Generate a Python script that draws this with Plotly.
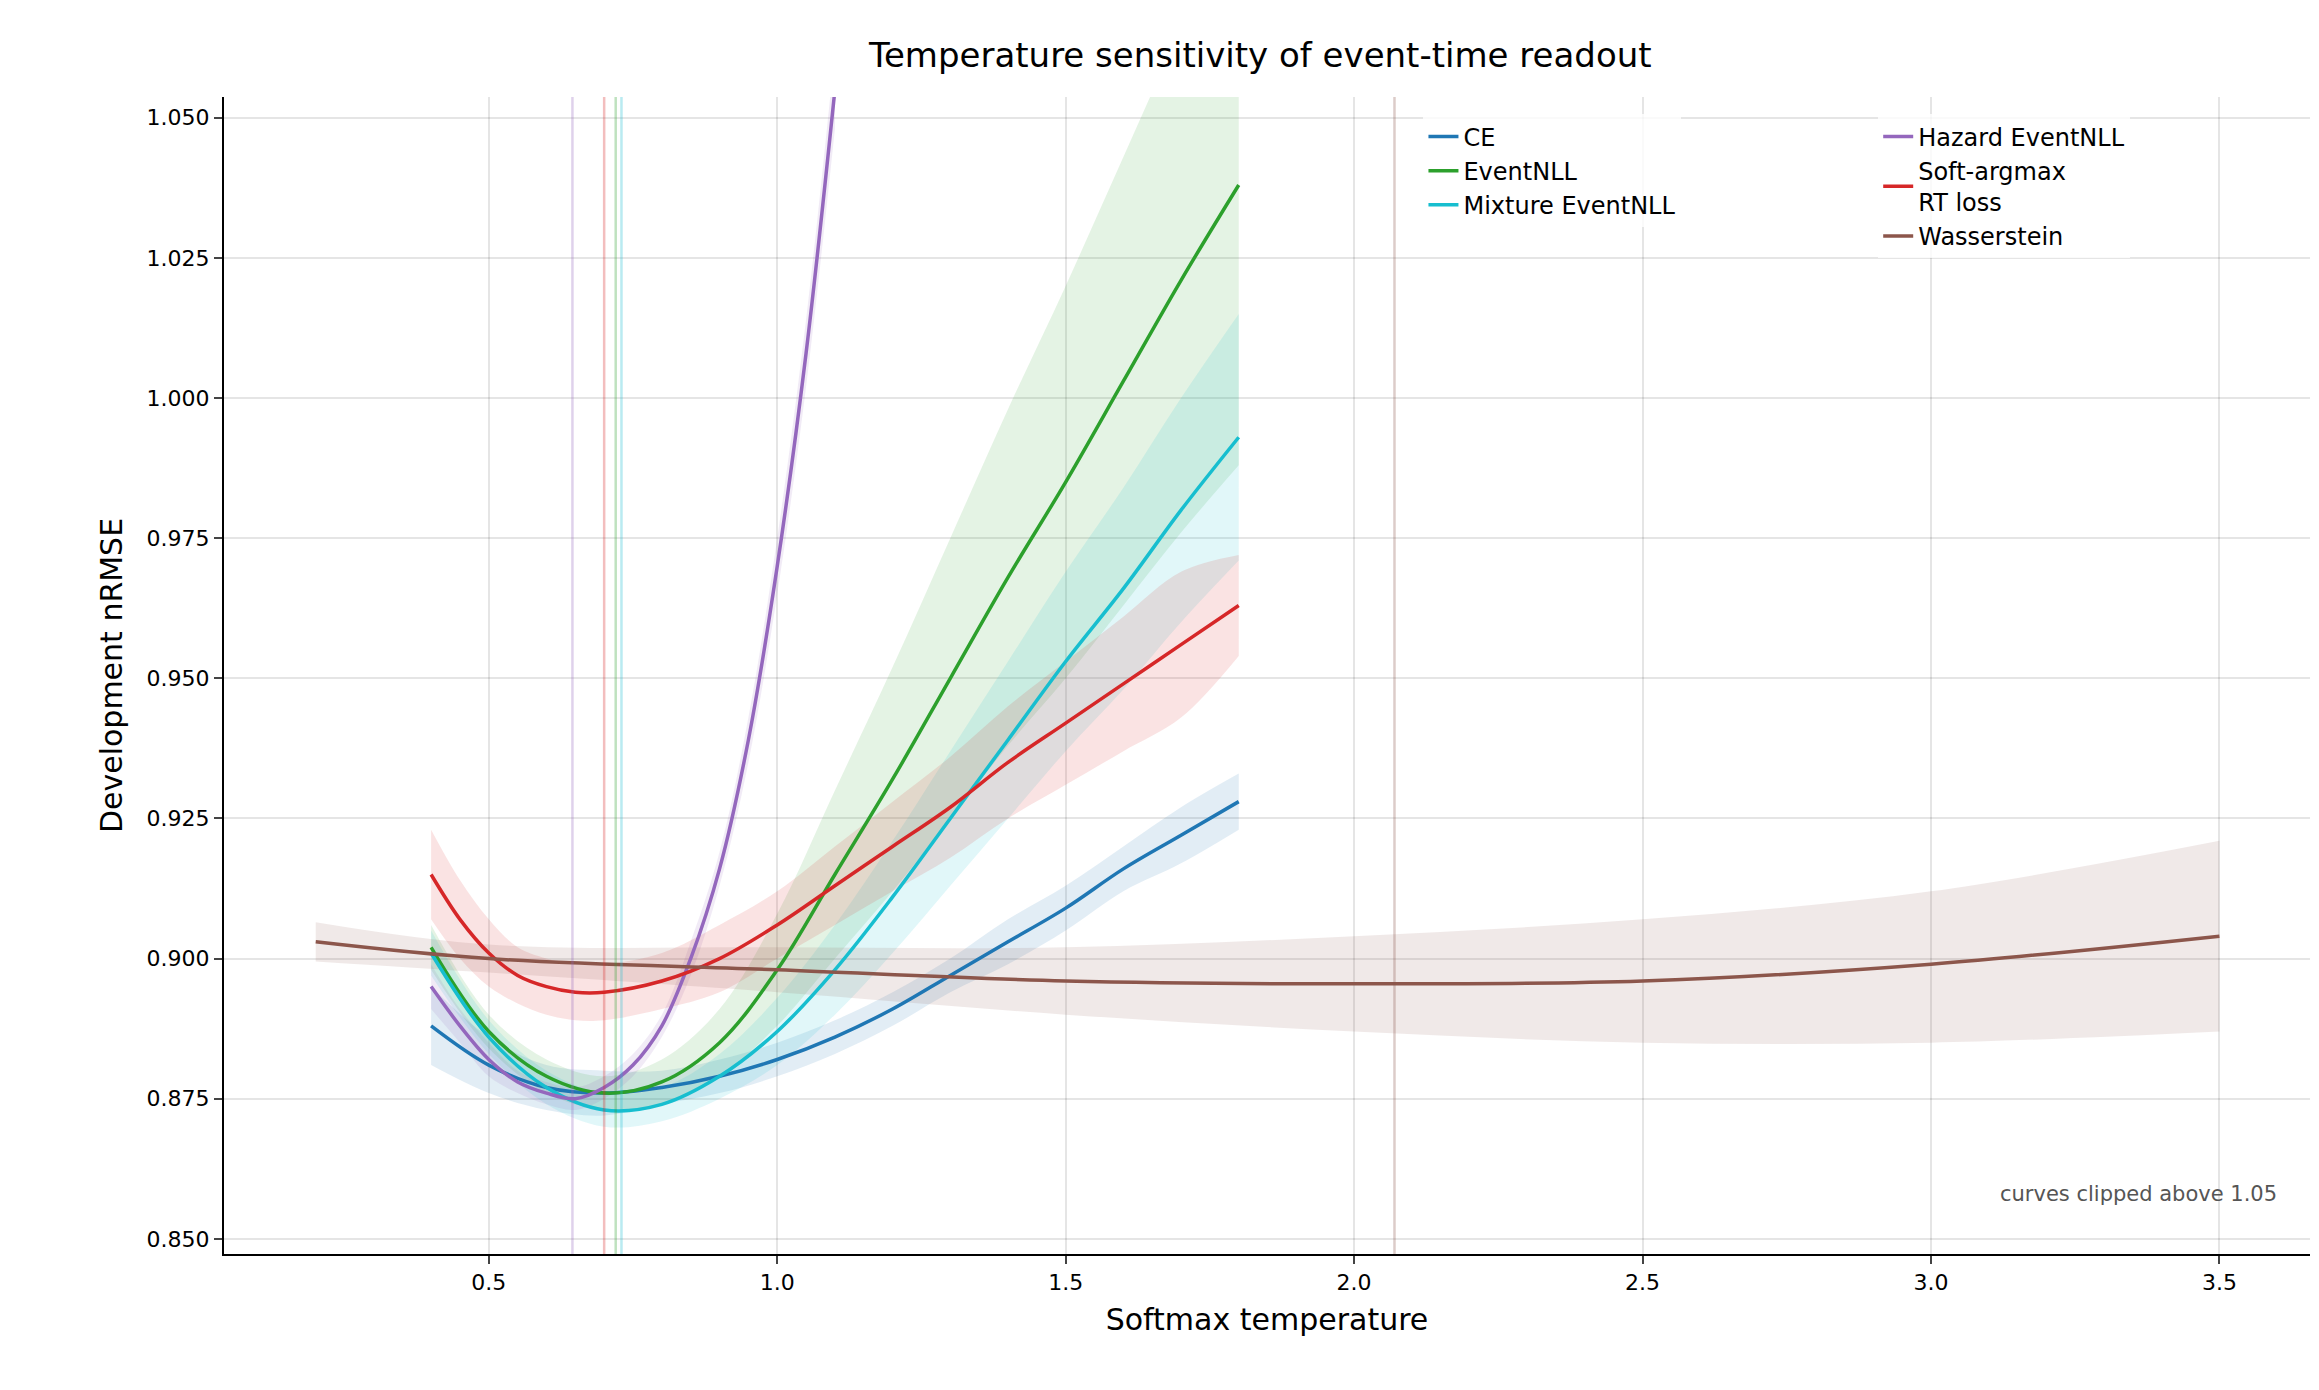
import plotly.graph_objects as go

t10 = [0.4,0.5,0.6,0.7,0.8,0.9,1.0,1.1,1.2,1.3,1.4,1.5,1.6,1.7,1.8]
ce = [0.888,0.881,0.877,0.876,0.877,0.879,0.882,0.886,0.891,0.897,0.903,0.909,0.916,0.922,0.928]
ce_sd = [0.007,0.005,0.004,0.004,0.003,0.003,0.003,0.003,0.003,0.003,0.004,0.004,0.004,0.005,0.005]
ev = [0.902,0.887,0.879,0.876,0.878,0.885,0.898,0.915,0.932,0.950,0.968,0.985,1.003,1.021,1.038]
ev_sd = [0.004,0.003,0.003,0.003,0.004,0.006,0.010,0.015,0.020,0.025,0.030,0.035,0.040,0.045,0.050]
mx = [0.901,0.886,0.877,0.873,0.874,0.879,0.887,0.898,0.911,0.925,0.939,0.953,0.966,0.980,0.993]
mx_sd = [0.004,0.003,0.003,0.003,0.003,0.004,0.006,0.008,0.010,0.012,0.014,0.016,0.018,0.020,0.022]
t_hz = [0.4,0.45,0.5,0.55,0.6,0.65,0.7,0.75,0.8,0.85,0.9,0.95,1.0,1.05,1.1]
hz = [0.895,0.888,0.882,0.878,0.876,0.875,0.877,0.881,0.888,0.900,0.916,0.939,0.970,1.008,1.055]
hz_sd = [0.004,0.003,0.003,0.002,0.002,0.002,0.002,0.002,0.002,0.003,0.003,0.004,0.005,0.006,0.007]
t_sa = [0.4,0.45,0.5,0.55,0.6,0.65,0.7,0.8,0.9,1.0,1.1,1.2,1.3,1.4,1.5,1.6,1.7,1.8]
sa = [0.915,0.907,0.901,0.897,0.895,0.894,0.894,0.896,0.900,0.906,0.913,0.920,0.927,0.935,0.942,0.949,0.956,0.963]
sa_sd = [0.008,0.007,0.006,0.005,0.005,0.005,0.005,0.005,0.006,0.006,0.007,0.008,0.009,0.010,0.011,0.012,0.013,0.009]
t_w = [0.2,0.5,1.0,1.5,2.0,2.5,3.0,3.5]
ws = [0.903,0.900,0.898,0.896,0.8955,0.896,0.899,0.904]
ws_lo = [0.8995,0.8975,0.894,0.890,0.887,0.885,0.885,0.887]
ws_hi = [0.9065,0.9025,0.902,0.902,0.904,0.907,0.912,0.921]
opt_t = {"Hazard EventNLL":0.645,"Soft-argmax<br>RT loss":0.70,"EventNLL":0.72,"Mixture EventNLL":0.73,"Wasserstein":2.07}

cols = {"CE":"31,119,180","EventNLL":"44,160,44","Mixture EventNLL":"23,190,207",
        "Hazard EventNLL":"148,103,189","Soft-argmax<br>RT loss":"214,39,40","Wasserstein":"140,86,75"}
leg = {"CE":"legend","EventNLL":"legend","Mixture EventNLL":"legend",
       "Hazard EventNLL":"legend2","Soft-argmax<br>RT loss":"legend2","Wasserstein":"legend2"}

series = {
 "CE":(t10,ce,[a-b for a,b in zip(ce,ce_sd)],[a+b for a,b in zip(ce,ce_sd)]),
 "EventNLL":(t10,ev,[a-b for a,b in zip(ev,ev_sd)],[a+b for a,b in zip(ev,ev_sd)]),
 "Mixture EventNLL":(t10,mx,[a-b for a,b in zip(mx,mx_sd)],[a+b for a,b in zip(mx,mx_sd)]),
 "Hazard EventNLL":(t_hz,hz,[a-b for a,b in zip(hz,hz_sd)],[a+b for a,b in zip(hz,hz_sd)]),
 "Soft-argmax<br>RT loss":(t_sa,sa,[a-b for a,b in zip(sa,sa_sd)],[a+b for a,b in zip(sa,sa_sd)]),
 "Wasserstein":(t_w,ws,ws_lo,ws_hi),
}

fig = go.Figure()
for name,(x,y,lo,hi) in series.items():
    c = cols[name]
    fig.add_trace(go.Scatter(x=x,y=lo,mode="lines",line=dict(width=0,shape="spline"),showlegend=False,hoverinfo="skip"))
    fig.add_trace(go.Scatter(x=x,y=hi,mode="lines",line=dict(width=0,shape="spline"),fill="tonexty",
                             fillcolor=f"rgba({c},0.13)",showlegend=False,hoverinfo="skip"))
for name,(x,y,lo,hi) in series.items():
    fig.add_trace(go.Scatter(x=x,y=y,mode="lines",name=name,legend=leg[name],
                             line=dict(color=f"rgb({cols[name]})",width=3.5,shape="spline")))
for name,tv in opt_t.items():
    fig.add_vline(x=tv,line=dict(color=f"rgba({cols[name]},0.3)",width=2.5))

fig.add_annotation(text="curves clipped above 1.05",xref="paper",yref="paper",x=0.985,y=0.04,
                   showarrow=False,xanchor="right",font=dict(size=21,color="#555"))
ax = dict(showgrid=True,gridcolor="rgba(0,0,0,0.1)",gridwidth=2,showline=True,linecolor="black",linewidth=2,
          ticks="outside",ticklen=8,tickwidth=2,tickfont=dict(size=22),zeroline=False)
legstyle = dict(y=0.985,xanchor="left",yanchor="top",font=dict(size=24),bgcolor="rgba(255,255,255,0.8)",
                traceorder="normal",orientation="v")
fig.update_layout(width=2319,height=1390,plot_bgcolor="white",paper_bgcolor="white",
    font=dict(family="DejaVu Sans",color="black"),
    title=dict(text="Temperature sensitivity of event-time readout",x=0.54,xanchor="center",y=0.975,font=dict(size=34)),
    margin=dict(l=216,r=17,t=89,b=144),
    xaxis=dict(ax,range=[0.041,3.657],tickvals=[0.5,1.0,1.5,2.0,2.5,3.0,3.5],ticktext=["0.5","1.0","1.5","2.0","2.5","3.0","3.5"],
               title=dict(text="Softmax temperature",font=dict(size=30))),
    yaxis=dict(ax,range=[0.8473,1.0537],tickvals=[0.85,0.875,0.9,0.925,0.95,0.975,1.0,1.025,1.05],tickformat=".3f",
               title=dict(text="Development nRMSE",font=dict(size=30))),
    legend=dict(legstyle,x=0.575),
    legend2=dict(legstyle,x=0.793),
)
fig.write_html("out.html")
